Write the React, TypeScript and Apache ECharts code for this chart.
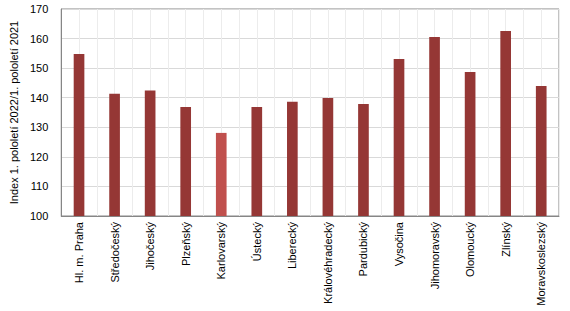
import React, { useEffect, useRef } from "react";
import * as echarts from "echarts";

const categories = [
  "Hl. m. Praha", "Středočeský", "Jihočeský", "Plzeňský", "Karlovarský", "Ústecký",
  "Liberecký", "Královéhradecký", "Pardubický", "Vysočina", "Jihomoravský",
  "Olomoucký", "Zlínský", "Moravskoslezský",
];
const values = [154.8, 141.3, 142.4, 136.9, 128.1, 136.9, 138.6, 139.9, 137.9, 153.1, 160.5, 148.7, 162.6, 144.0];
const highlighted = ["Karlovarský"];
const yTicks = { min: 100, max: 170, interval: 10 };
const yTitle = "Index 1. pololetí 2022/1. pololetí 2021";

export default function App() {
  const ref = useRef<HTMLDivElement>(null);
  useEffect(() => {
    document.body.style.margin = "0";
    const chart = echarts.init(ref.current!, undefined, { renderer: "svg" });
    const font = "Liberation Sans, Arial, sans-serif";
    chart.setOption({
      animation: false,
      grid: { left: 61, right: 11, top: 9, bottom: 95, show: true, borderColor: "#868686", borderWidth: 1 },
      xAxis: [
        {
          type: "category",
          data: categories,
          axisLine: { show: true, lineStyle: { color: "#868686" } },
          axisTick: { show: false },
          splitLine: { show: false },
          axisLabel: { rotate: 90, color: "#000", fontFamily: font, fontSize: 11, margin: 6, interval: 0 },
        },
        {
          type: "value",
          min: 0,
          max: categories.length * 2,
          interval: 1,
          show: true,
          position: "bottom",
          axisLine: { show: false },
          axisTick: { show: false },
          axisLabel: { show: false },
          splitLine: { show: true, lineStyle: { color: "#ececec", width: 1 } },
        },
      ],
      yAxis: {
        type: "value",
        min: yTicks.min,
        max: yTicks.max,
        interval: yTicks.interval,
        name: yTitle,
        nameLocation: "middle",
        nameGap: 40,
        nameTextStyle: { color: "#000", fontFamily: font, fontSize: 11 },
        axisLine: { show: true, lineStyle: { color: "#868686" } },
        axisTick: { show: false },
        axisLabel: { color: "#000", fontFamily: font, fontSize: 11, margin: 13 },
        splitLine: { show: true, lineStyle: { color: "#d9d9d9" } },
      },
      series: [
        {
          type: "bar",
          xAxisIndex: 0,
          barWidth: "30%",
          z: 3,
          data: categories.map((c, i) => ({
            value: values[i],
            itemStyle: { color: highlighted.includes(c) ? "#c0504d" : "#953735" },
          })),
        },
      ],
    });
    return () => chart.dispose();
  }, []);
  return <div ref={ref} style={{ width: 570, height: 311 }} />;
}
